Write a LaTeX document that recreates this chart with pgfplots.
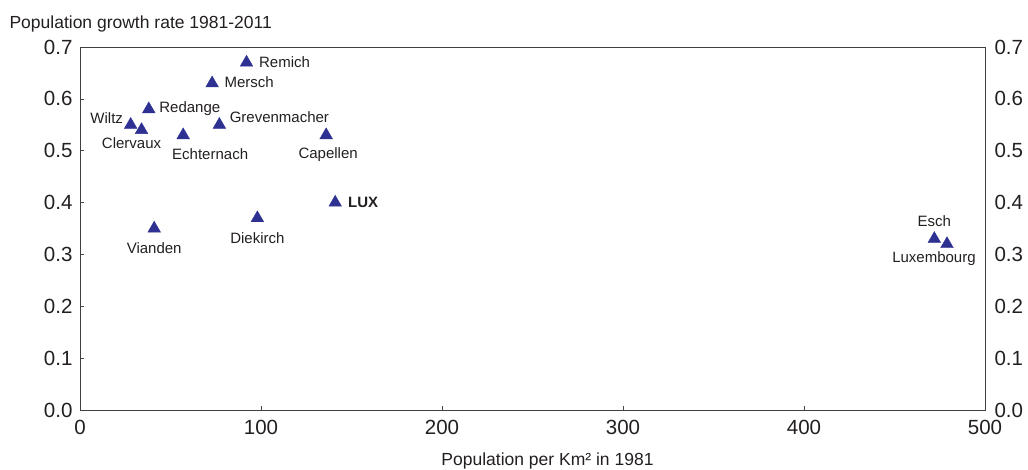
\documentclass[border=0pt]{standalone}
\usepackage{pgfplots}
\usepackage{pgfplotstable}
\usepackage{fontspec}
\setmainfont{Liberation Sans}
\pgfplotsset{compat=1.18}
\definecolor{navy}{RGB}{46,49,146}
\definecolor{txt}{RGB}{35,31,32}

% x y, then offset of the label centre from the point (pt)
\pgfplotstableread{
x y dx dy label
92 0.67 38 0 Remich
73 0.63 37 1 Mersch
38 0.58 41 1 Redange
28 0.55 -24 7 Wiltz
34 0.54 -10 -13 Clervaux
57 0.53 27 -19 Echternach
77 0.55 60 8 Grevenmacher
136 0.53 2 -19 Capellen
98 0.37 0 -20 Diekirch
41 0.35 0 -20 Vianden
472 0.33 0 18 Esch
479 0.32 -13 -15 Luxembourg
}\regions

\pgfplotstableread{
x y dx dy label
141 0.40 28 0 LUX
}\national

\begin{document}
\begin{tikzpicture}
\path[use as bounding box] (-80pt,-59pt) rectangle (948pt,410pt);
\pgfplotsset{
  base/.style={
    scale only axis, width=905pt, height=363pt,
    xmin=0, xmax=500, ymin=0, ymax=0.7,
    ytick={0,0.1,...,0.7},
    /pgf/number format/assume math mode=true,
    tick label style={font=\fontsize{20.5}{24}\selectfont, text=txt},
    yticklabel style={/pgf/number format/fixed, /pgf/number format/fixed zerofill, /pgf/number format/precision=1},
    axis line style={draw=black!75, line width=0.9pt},
  },
  labelled/.style={
    only marks, mark=triangle*, mark size=7.3pt, color=navy,
    nodes near coords,
    point meta=explicit symbolic,
    visualization depends on={\thisrow{dx} \as \dx},
    visualization depends on={\thisrow{dy} \as \dy},
    every node near coord/.append style={
      anchor=center, xshift=\dx pt, yshift=\dy pt, inner sep=0pt,
      font=\fontsize{15}{18}\selectfont, text=txt},
  },
}
\begin{axis}[base,
  xtick={0,100,...,500},
  xtick pos=bottom, ytick pos=left,
  tick align=inside, major tick length=4pt,
  tick style={draw=black!70, line width=0.6pt},
  xticklabel style={yshift=-7pt},
  yticklabel style={xshift=-4pt},
  xlabel={Population per Km² in 1981},
  ylabel={Population growth rate 1981-2011},
  every axis x label/.style={at={(rel axis cs:0.5,0)}, anchor=base, xshift=15pt, yshift=-55pt, font=\fontsize{17.5}{20}\selectfont, text=txt},
  every axis y label/.style={at={(rel axis cs:0,1)}, anchor=base west, xshift=-74pt, yshift=18pt, font=\fontsize{17.5}{20}\selectfont, text=txt},
]
\addplot[labelled] table[x=x, y=y, meta=label] {\regions};
\addplot[labelled,
  every node near coord/.append style={font=\fontsize{15}{18}\selectfont\bfseries}] table[x=x, y=y, meta=label] {\national};
\end{axis}
\begin{axis}[base,
  axis y line*=right, hide x axis,
  ytick style={draw=none},
  yticklabel style={xshift=6pt},
]
\addplot[draw=none] coordinates {(0,0)};
\end{axis}
\end{tikzpicture}
\end{document}
